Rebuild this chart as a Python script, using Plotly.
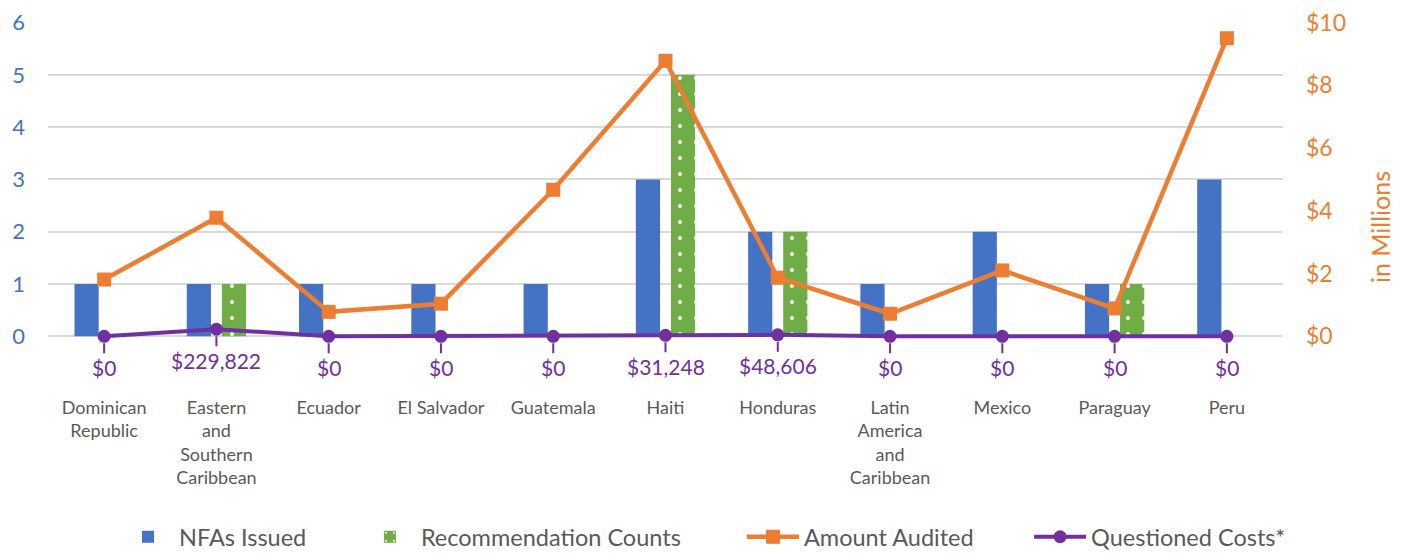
import plotly.graph_objects as go

categories = ["Dominican Republic", "Eastern and Southern Caribbean", "Ecuador", "El Salvador",
              "Guatemala", "Haiti", "Honduras", "Latin America and Caribbean", "Mexico",
              "Paraguay", "Peru"]
tick_labels = ["Dominican<br>Republic", "Eastern<br>and<br>Southern<br>Caribbean", "Ecuador",
               "El Salvador", "Guatemala", "Haiti", "Honduras",
               "Latin<br>America<br>and<br>Caribbean", "Mexico", "Paraguay", "Peru"]
nfas_issued = [1, 1, 1, 1, 1, 3, 2, 1, 2, 1, 3]
recommendation_counts = [0, 1, 0, 0, 0, 5, 2, 0, 0, 1, 0]
amount_audited_millions = [1.81, 3.78, 0.78, 1.04, 4.67, 8.78, 1.87, 0.72, 2.10, 0.89, 9.50]
questioned_costs_dollars = [0, 229822, 0, 0, 0, 31248, 48606, 0, 0, 0, 0]
left_ticks = [0, 1, 2, 3, 4, 5, 6]
right_ticks = [0, 2, 4, 6, 8, 10]
right_tick_labels = ["$0", "$2", "$4", "$6", "$8", "$10"]

BLUE = "#4472C4"
GREEN = "#70AD47"
ORANGE = "#ED7D31"
PURPLE = "#7030A0"
GRAY = "#595959"
FONT = "Lato, 'Open Sans', sans-serif"

questioned_millions = [v / 1e6 for v in questioned_costs_dollars]
questioned_labels = ["${:,.0f}".format(v) for v in questioned_costs_dollars]

fig = go.Figure()
fig.add_trace(go.Bar(
    x=categories, y=nfas_issued, name="NFAs Issued", legend="legend",
    marker=dict(color=BLUE, line=dict(width=0)),
))
fig.add_trace(go.Bar(
    x=categories, y=recommendation_counts, name="Recommendation Counts", legend="legend2",
    marker=dict(color=GREEN, line=dict(width=0),
                pattern=dict(shape=".", fgcolor="white", bgcolor=GREEN,
                             fillmode="replace", size=16, solidity=0.05)),
))
fig.add_trace(go.Scatter(
    x=categories, y=amount_audited_millions, name="Amount Audited", yaxis="y2",
    legend="legend3", mode="lines+markers", cliponaxis=False,
    line=dict(color=ORANGE, width=4.5),
    marker=dict(symbol="square", size=14, color=ORANGE),
))
fig.add_trace(go.Scatter(
    x=categories, y=questioned_millions, name="Questioned Costs*", yaxis="y2",
    legend="legend4", mode="lines+markers", cliponaxis=False,
    line=dict(color=PURPLE, width=4),
    marker=dict(symbol="circle", size=13, color=PURPLE),
))

for cat, val, lab in zip(categories, questioned_millions, questioned_labels):
    fig.add_annotation(
        x=cat, y=val, xref="x", yref="y2", text=lab,
        showarrow=True, arrowhead=0, arrowwidth=2, arrowcolor=PURPLE,
        ax=0, ay=31, standoff=7,
        font=dict(family=FONT, size=21, color=PURPLE),
    )

fig.add_annotation(
    text="in Millions", textangle=-90, showarrow=False,
    xref="paper", yref="paper", x=1, y=0.355, xanchor="center", yanchor="middle",
    xshift=97, font=dict(family=FONT, size=25, color=ORANGE),
)

FIG_H = 547


def legend_at(x):
    return dict(orientation="h", xref="container", yref="container",
                x=x, xanchor="left", y=1 - 529 / FIG_H, yanchor="middle",
                font=dict(family=FONT, size=23.5, color=GRAY),
                itemwidth=52, bgcolor="rgba(0,0,0,0)")


fig.update_layout(
    width=1387, height=FIG_H,
    margin=dict(l=40, r=112, t=14, b=215, autoexpand=False),
    paper_bgcolor="white", plot_bgcolor="white",
    font=dict(family=FONT, size=18, color=GRAY),
    barmode="group", bargap=0.375, bargroupgap=0.31,
    showlegend=True,
    legend=legend_at(0.0786),
    legend2=legend_at(0.2530),
    legend3=legend_at(0.5292),
    legend4=legend_at(0.7362),
    xaxis=dict(
        range=[-0.5, 10.5], autorange=False,
        tickmode="array", tickvals=categories, ticktext=tick_labels,
        showgrid=False, showline=False, ticks="", zeroline=False, automargin=False,
        tickfont=dict(family=FONT, size=18, color=GRAY),
        ticklabelstandoff=55,
    ),
    yaxis=dict(
        range=[-0.07, 6.01], tickvals=left_ticks, showgrid=True,
        gridcolor="#D9D9D9", gridwidth=1.5,
        zeroline=False, showline=False, ticks="", automargin=False,
        tickfont=dict(family=FONT, size=22, color=BLUE),
        ticklabelstandoff=22, ticklabeloverflow="allow",
    ),
    yaxis2=dict(
        overlaying="y", side="right", range=[-0.07 * 10 / 6, 6.01 * 10 / 6],
        tickmode="array", tickvals=right_ticks, ticktext=right_tick_labels,
        showgrid=False, zeroline=False, showline=False, ticks="", automargin=False,
        tickfont=dict(family=FONT, size=23, color=ORANGE),
        ticklabelstandoff=22, ticklabeloverflow="allow",
    ),
)

fig.write_html("out.html")
